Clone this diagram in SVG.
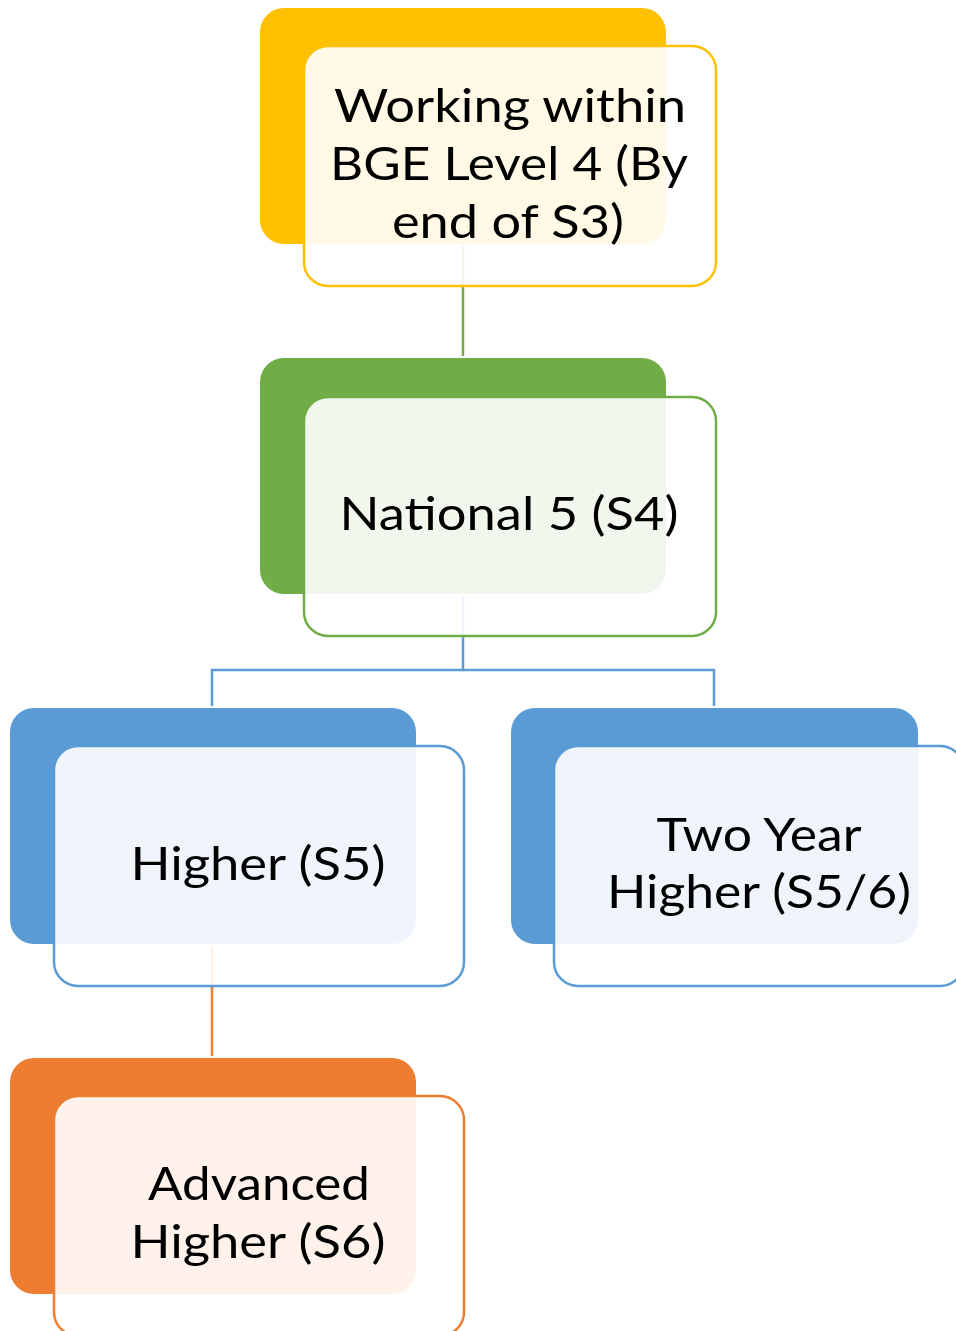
<svg xmlns="http://www.w3.org/2000/svg" width="956" height="1331" viewBox="0 0 956 1331">
<style>
.back{stroke:none}
.front{fill:#ffffff;fill-opacity:0.9;stroke-width:2.5}
.lbl{font-family:Lato,"Open Sans","Liberation Sans",sans-serif;font-size:46px;fill:#000000;text-anchor:middle}
.conn{fill:none;stroke-width:2.5}
</style>
<rect width="956" height="1331" fill="#ffffff"/>
<g id="connectors">
<line class="conn" x1="463" y1="246" x2="463" y2="356" stroke="#70AD47"/>
<polyline class="conn" points="463,596 463,670 212,670 212,706" stroke="#5B9BD5"/>
<polyline class="conn" points="463,670 714,670 714,706" stroke="#5B9BD5"/>
<line class="conn" x1="212" y1="946" x2="212" y2="1056" stroke="#ED7D31"/>
</g>
<g id="node-bge">
<rect class="back" x="260" y="8" width="406" height="236" rx="24" fill="#FFC000"/>
<rect class="front" x="304" y="46" width="412" height="240" rx="24" stroke="#FFC000"/>
<text class="lbl" x="510" y="122" textLength="352" lengthAdjust="spacingAndGlyphs">Working within</text>
<text class="lbl" x="509" y="180" textLength="358" lengthAdjust="spacingAndGlyphs">BGE Level 4 (By</text>
<text class="lbl" x="508" y="238" textLength="232" lengthAdjust="spacingAndGlyphs">end of S3)</text>
</g>
<g id="node-n5">
<rect class="back" x="260" y="358" width="406" height="236" rx="24" fill="#70AD47"/>
<rect class="front" x="304" y="397" width="412" height="239" rx="24" stroke="#70AD47"/>
<text class="lbl" x="509" y="530" textLength="339" lengthAdjust="spacingAndGlyphs">National 5 (S4)</text>
</g>
<g id="node-higher">
<rect class="back" x="10" y="708" width="406" height="236" rx="24" fill="#5B9BD5"/>
<rect class="front" x="54" y="746" width="410" height="240" rx="24" stroke="#5B9BD5"/>
<text class="lbl" x="258" y="880" textLength="255" lengthAdjust="spacingAndGlyphs">Higher (S5)</text>
</g>
<g id="node-twoyear">
<rect class="back" x="511" y="708" width="407" height="236" rx="24" fill="#5B9BD5"/>
<rect class="front" x="554" y="746" width="410" height="240" rx="24" stroke="#5B9BD5"/>
<text class="lbl" x="759" y="851" textLength="205" lengthAdjust="spacingAndGlyphs">Two Year</text>
<text class="lbl" x="759" y="908" textLength="304" lengthAdjust="spacingAndGlyphs">Higher (S5/6)</text>
</g>
<g id="node-advanced">
<rect class="back" x="10" y="1058" width="406" height="236" rx="24" fill="#ED7D31"/>
<rect class="front" x="54" y="1096" width="410" height="240" rx="24" stroke="#ED7D31"/>
<text class="lbl" x="259" y="1200" textLength="222" lengthAdjust="spacingAndGlyphs">Advanced</text>
<text class="lbl" x="258" y="1258" textLength="255" lengthAdjust="spacingAndGlyphs">Higher (S6)</text>
</g>
</svg>
